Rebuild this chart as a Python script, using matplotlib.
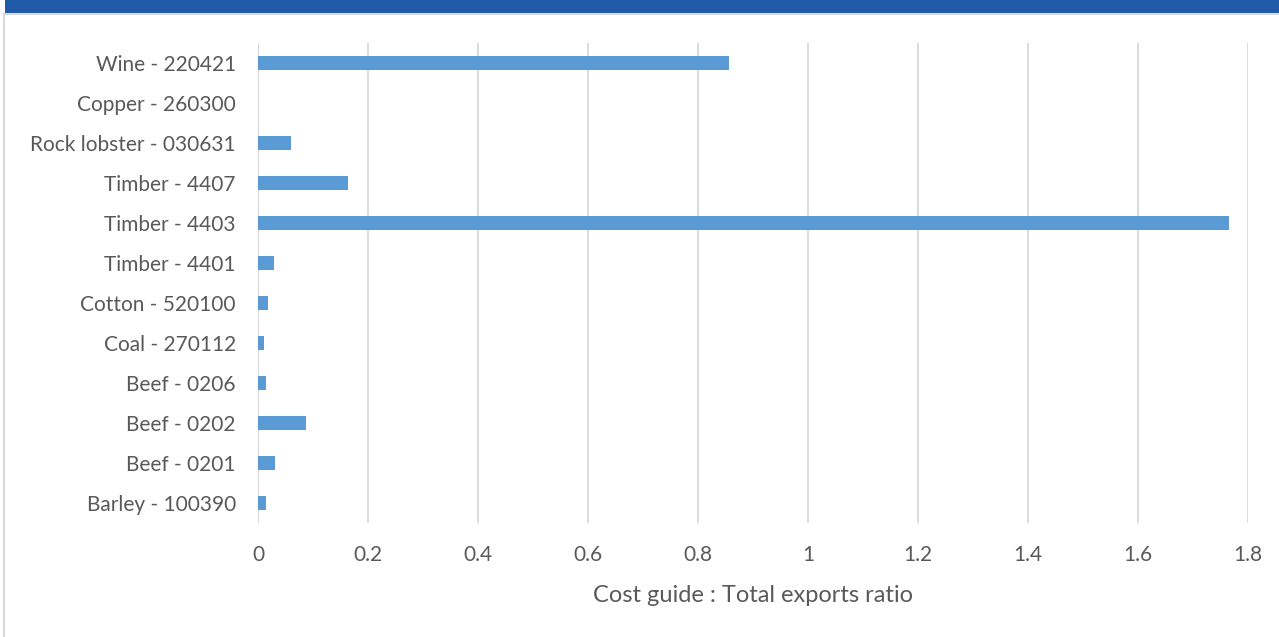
import matplotlib.pyplot as plt
from matplotlib.patches import Rectangle

labels = ['Barley - 100390', 'Beef - 0201', 'Beef - 0202', 'Beef - 0206', 'Coal - 270112',
          'Cotton - 520100', 'Timber - 4401', 'Timber - 4403', 'Timber - 4407',
          'Rock lobster - 030631', 'Copper - 260300', 'Wine - 220421']
values = [0.015, 0.030, 0.087, 0.015, 0.010, 0.018, 0.029, 1.765, 0.164, 0.060, 0.0, 0.856]
ticks = [0, 0.2, 0.4, 0.6, 0.8, 1.0, 1.2, 1.4, 1.6, 1.8]
tick_labels = ['0', '0.2', '0.4', '0.6', '0.8', '1', '1.2', '1.4', '1.6', '1.8']

plt.rcParams['font.family'] = ['Lato', 'DejaVu Sans']
text_col = '#595959'

fig = plt.figure(figsize=(12.79, 6.37), dpi=100)

# banner and frame behind the axes
fig.patches.append(Rectangle((5 / 1279, 1 - 13 / 637), 1, 13 / 637, transform=fig.transFigure,
                             facecolor='#1F5AA8', edgecolor='none', zorder=-2))
fig.patches.append(Rectangle((4 / 1279, -0.01), 1, 1 - 14 / 637 + 0.01, transform=fig.transFigure,
                             facecolor='white', edgecolor='#D9D9D9', linewidth=1.5, zorder=-1))

ax = fig.add_axes([258 / 1279, 1 - 523 / 637, 990 / 1279, 480 / 637])
ax.set_zorder(1)
ax.patch.set_alpha(0)
ax.barh(range(len(labels)), values, height=0.35, color='#5B9BD5', zorder=3)

ax.set_xlim(0, 1.8)
ax.set_ylim(-0.5, len(labels) - 0.5)
ax.set_xticks(ticks)
ax.set_xticklabels(tick_labels)
ax.set_yticks(range(len(labels)))
ax.set_yticklabels(labels)
ax.tick_params(axis='both', length=0, labelsize=15, colors=text_col)
ax.tick_params(axis='x', pad=16)
ax.tick_params(axis='y', pad=16)
ax.grid(axis='x', color='#D9D9D9', linewidth=1.3, zorder=0)
ax.axvline(0, color='#D9D9D9', linewidth=1.5, zorder=1)
for s in ax.spines.values():
    s.set_visible(False)
ax.set_xlabel('Cost guide : Total exports ratio', fontsize=17, color=text_col, labelpad=14)

fig.savefig('out.png', dpi=100)
